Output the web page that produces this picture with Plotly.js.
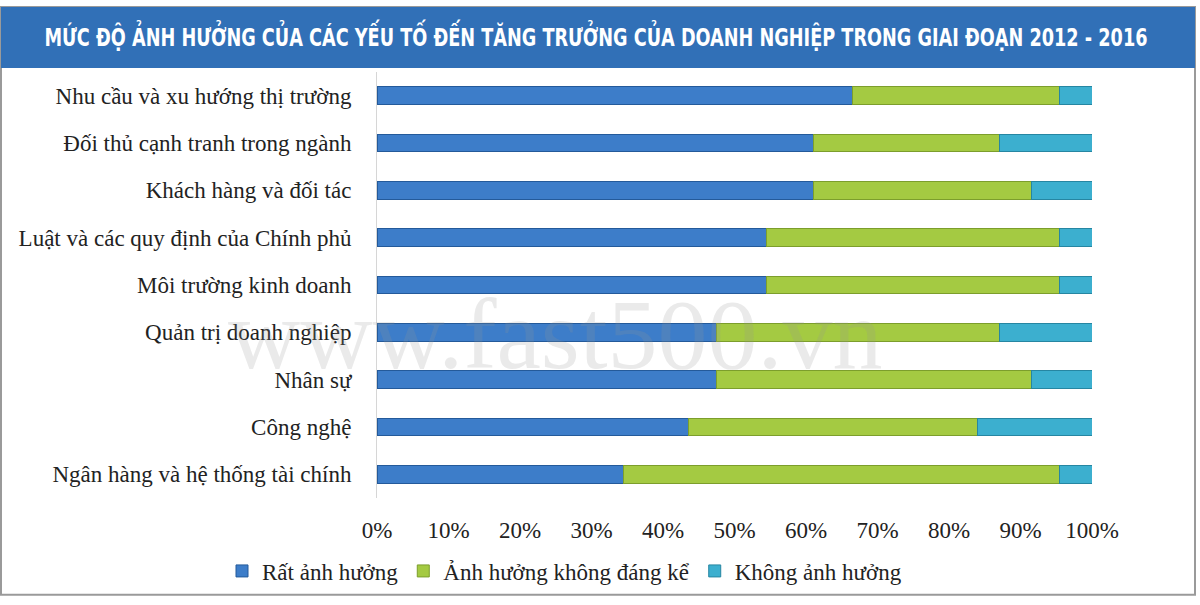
<!DOCTYPE html>
<html>
<head>
<meta charset="utf-8">
<script src="https://cdn.plot.ly/plotly-3.0.1.min.js"></script>
<style>
  html, body { margin: 0; padding: 0; background: #ffffff; }
  #chart { width: 1200px; height: 605px; }
</style>
</head>
<body>
<div id="chart"></div>
<script>
// Categories, top to bottom as in the picture
const factors = [
    'Nhu cầu và xu hướng thị trường',
    'Đối thủ cạnh tranh trong ngành',
    'Khách hàng và đối tác',
    'Luật và các quy định của Chính phủ',
    'Môi trường kinh doanh',
    'Quản trị doanh nghiệp',
    'Nhân sự',
    'Công nghệ',
    'Ngân hàng và hệ thống tài chính'
];

// Share of firms (%) per level of impact
const veryStrong = [66.5, 61, 61, 54.5, 54.5, 47.5, 47.5, 43.5, 34.5];
const minor      = [29, 26, 30.5, 41, 41, 39.5, 44, 40.5, 61];
const noImpact   = [4.5, 13, 8.5, 4.5, 4.5, 13, 8.5, 16, 4.5];

const seriesNames = ['Rất ảnh hưởng', 'Ảnh hưởng không đáng kể', 'Không ảnh hưởng'];
const tickValues = [0, 10, 20, 30, 40, 50, 60, 70, 80, 90, 100];
const tickLabels = tickValues.map(v => v + '%');

const serif = 'Liberation Serif, Times New Roman, serif';

function barTrace(name, values, fill, edge) {
    return {
        type: 'bar',
        orientation: 'h',
        name: name,
        y: factors,
        x: values,
        marker: { color: fill, line: { color: edge, width: 1 } },
        hovertemplate: '%{y}: %{x}%<extra>' + name + '</extra>'
    };
}

const data = [
    barTrace(seriesNames[0], veryStrong, '#3d7dc9', '#245a9a'),
    barTrace(seriesNames[1], minor, '#a4ca42', '#7c9e2c'),
    barTrace(seriesNames[2], noImpact, '#3cafcf', '#2686a2')
];

const layout = {
    width: 1200,
    height: 605,
    margin: { l: 377, r: 108, t: 72, b: 101 },
    paper_bgcolor: '#ffffff',
    plot_bgcolor: 'rgba(0,0,0,0)',
    barmode: 'stack',
    bargap: 0.625,
    title: {
        text: 'MỨC ĐỘ ẢNH HƯỞNG CỦA CÁC YẾU TỐ ĐẾN TĂNG TRƯỞNG CỦA DOANH NGHIỆP TRONG GIAI ĐOẠN 2012 - 2016',
        font: { family: 'DejaVu Sans Condensed, Roboto, sans-serif', size: 24, color: '#ffffff', weight: 'bold' },
        xref: 'paper', x: (596 - 377) / 715, xanchor: 'center',
        yref: 'container', y: 1 - 38 / 605, yanchor: 'middle'
    },
    xaxis: {
        range: [0, 100],
        tickvals: tickValues,
        ticktext: tickLabels,
        showgrid: false,
        zeroline: false,
        showline: false,
        ticks: '',
        ticklabelstandoff: 16,
        tickfont: { family: serif, size: 23, color: '#222222' },
        fixedrange: true
    },
    yaxis: {
        autorange: 'reversed',
        showgrid: false,
        zeroline: false,
        showline: true,
        linecolor: '#d6d6d6',
        linewidth: 1,
        ticks: '',
        ticklabelstandoff: 20,
        tickfont: { family: serif, size: 23, color: '#222222' },
        fixedrange: true
    },
    legend: {
        orientation: 'h',
        traceorder: 'normal',
        x: (222 - 377) / 715, xanchor: 'left',
        y: (504 - 578) / 432, yanchor: 'middle',
        font: { family: serif, size: 23, color: '#222222' },
        itemwidth: 30,
        bgcolor: 'rgba(0,0,0,0)'
    },
    shapes: [
        // outer frame
        {
            type: 'rect', xref: 'paper', yref: 'paper', layer: 'below',
            x0: (1 - 377) / 715, x1: (1195 - 377) / 715,
            y0: (504 - 602) / 432, y1: (504 - 6) / 432,
            line: { color: '#9a9a9a', width: 2 }, fillcolor: 'rgba(0,0,0,0)'
        },
        // blue title band
        {
            type: 'rect', xref: 'paper', yref: 'paper', layer: 'below',
            x0: (1 - 377) / 715, x1: (1195 - 377) / 715,
            y0: (504 - 68) / 432, y1: (504 - 6) / 432,
            line: { width: 0 }, fillcolor: '#3170b7'
        }
    ],
    annotations: [
        {
            text: 'www.fast500.vn',
            xref: 'paper', yref: 'paper',
            x: (555 - 377) / 715, y: (504 - 338) / 432,
            xanchor: 'center', yanchor: 'middle',
            showarrow: false,
            font: { family: serif, size: 100, color: 'rgba(150,150,150,0.2)' }
        }
    ],
    showlegend: true
};

Plotly.newPlot('chart', data, layout, { displayModeBar: false, staticPlot: true }).then(function(gd) {
    // the source title is set in a condensed face: squeeze it to the same width
    const title = gd.querySelector('.gtitle');
    if (title) {
        title.setAttribute('textLength', 1103);
        title.setAttribute('lengthAdjust', 'spacingAndGlyphs');
    }
});
</script>
</body>
</html>
